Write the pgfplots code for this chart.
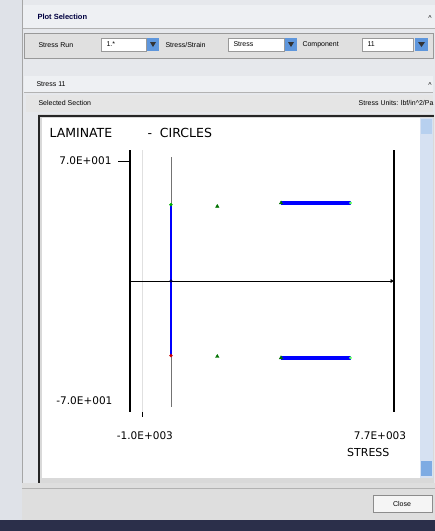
\documentclass[border=0pt]{standalone}
\usepackage{pgfplots}
\pgfplotsset{compat=1.18}
\usepackage{fontspec}
\setmainfont{Liberation Sans}
\newfontfamily\dv{DejaVu Sans}
\usetikzlibrary{arrows.meta}
\definecolor{bgout}{HTML}{DFE2E8}
\definecolor{win}{HTML}{E6E8EC}
\definecolor{strip}{HTML}{EEF0F3}
\definecolor{navy}{HTML}{2B2F4A}
\definecolor{btnblue}{HTML}{5E96DC}
\definecolor{scroll}{HTML}{D6E1F2}
\begin{document}
\begin{tikzpicture}
\useasboundingbox (0pt,0pt) rectangle (435pt,-531pt);
\begin{scope}[x=1pt,y=-1pt]
  \fill[bgout] (0,0) rectangle (435,531);
  \fill[win] (22,0) rectangle (435,520);
  \draw[black!35] (22,0) -- (22,520);
  % title strip
  \fill[strip] (23,5) rectangle (435,28);
  \draw[black!30] (23,28) -- (435,28);
  \node[anchor=west,font=\bfseries\fontsize{7.5}{8}\selectfont,text=black!75!blue] at (34,17) {Plot Selection};
  % toolbar
  \fill[black!12] (24,33) rectangle (433,58);
  \draw[black!40] (24,33) rectangle (433,58);
  \node[anchor=west,font=\fontsize{7}{8}\selectfont] at (35,45) {Stress Run};
  \fill[white] (101,38) rectangle (146,51);
  \draw[black!40] (101,38) rectangle (146,51);
  \node[anchor=west,font=\fontsize{7}{8}\selectfont] at (103,44.5) {1.*};
  \fill[btnblue] (147,38) rectangle (159,51);
  \fill[black!80] (150,42) -- (156,42) -- (153,47) -- cycle;
  \node[anchor=west,font=\fontsize{7}{8}\selectfont] at (162,45) {Stress/Strain};
  \fill[white] (228,38) rectangle (284,51);
  \draw[black!40] (228,38) rectangle (284,51);
  \node[anchor=west,font=\fontsize{7}{8}\selectfont] at (230,44.5) {Stress};
  \fill[btnblue] (285,38) rectangle (297,51);
  \fill[black!80] (288,42) -- (294,42) -- (291,47) -- cycle;
  \node[anchor=west,font=\fontsize{7}{8}\selectfont] at (299,45) {Component};
  \fill[white] (362,38) rectangle (413,51);
  \draw[black!40] (362,38) rectangle (413,51);
  \node[anchor=west,font=\fontsize{7}{8}\selectfont] at (364,44.5) {11};
  \fill[btnblue] (415,38) rectangle (428,51);
  \fill[black!80] (418,42) -- (425,42) -- (421.5,47) -- cycle;
  % stress row
  \fill[strip] (24,76) rectangle (433,92);
  \draw[black!30] (24,92) -- (433,92);
  \node[anchor=west,font=\fontsize{7}{8}\selectfont] at (33,84) {Stress 11};
  \node[font=\fontsize{7}{8}\selectfont] at (430,85) {\^{}};
  \node[font=\fontsize{7}{8}\selectfont] at (430,18) {\^{}};
  % header
  \fill[black!10] (26,95) rectangle (433,112);
  \node[anchor=west,font=\fontsize{7}{8}\selectfont] at (35,103) {Selected Section};
  \node[anchor=east,font=\fontsize{7}{8}\selectfont] at (437,103) {Stress Units: lbf/in\^{}2/Pa};
  % panel
  \fill[black!15] (38,114) rectangle (434,483);
  \fill[white] (42,118) rectangle (420,478);
  \draw[black!85,line width=1.5pt] (38,116) -- (434,116);
  \draw[black!85,line width=1.5pt] (39,116) -- (39,483);
  \fill[scroll] (420,118) rectangle (433,478);
  \fill[btnblue!45] (421,119) rectangle (432,134);
  \fill[btnblue!80] (421,461) rectangle (432,476);
  % bottom
  \fill[black!13] (22,483) rectangle (435,520);
  \draw[black!30] (22,488) -- (435,488);
  \fill[black!4] (373,495) rectangle (432,512);
  \draw[black!45] (373,495) rectangle (432,512);
  \node[font=\fontsize{7}{8}\selectfont] at (402,503.5) {Close};
  \fill[navy] (0,520) rectangle (435,531);
  % chart title
  \node[anchor=west,font=\dv\fontsize{12.5}{13}\selectfont] at (46,133) {LAMINATE};
  \node[anchor=west,font=\dv\fontsize{12.5}{13}\selectfont] at (144,133) {-\ \ CIRCLES};
\end{scope}
\begin{axis}[
  at={(130pt,-412pt)}, anchor=south west,
  scale only axis, width=264pt, height=262pt,
  xmin=-1414, xmax=7700, ymin=-76.4, ymax=76.4,
  axis lines=none, clip=false,
  ticks=none,
]
\addplot[black!12, line width=0.6pt] coordinates {(-1000,76.4) (-1000,-76.4)};
\addplot[black!55, line width=0.9pt] coordinates {(0,72.3) (0,-73.5)};
\addplot[blue, line width=1.6pt] coordinates {(0,44.5) (0,-43.5)};
\addplot[blue, line width=3.5pt] coordinates {(3800,45.5) (6200,45.5)};
\addplot[blue, line width=3.5pt] coordinates {(3800,-44.8) (6200,-44.8)};
\addplot[black, line width=1.4pt] coordinates {(-1414,76.4) (-1414,-76.4)};
\addplot[black, line width=1.4pt] coordinates {(7700,76.4) (7700,-76.4)};
\addplot[black, line width=0.6pt] coordinates {(-1414,0) (7620,0)};
% tick marks
\addplot[black, line width=0.8pt] coordinates {(-1828,70) (-1414,70)};
\addplot[black, line width=0.6pt] coordinates {(-1000,-76.4) (-1000,-79.3)};
\addplot[only marks, mark=*, mark size=1.5pt, color=green!70!black] coordinates {(0,44.5)};
\addplot[only marks, mark=*, mark size=1.5pt, color=red!80!black] coordinates {(0,-43.5)};
\addplot[only marks, mark=*, mark size=1.4pt, color=black!70!blue] coordinates {(0,0)};
\addplot[only marks, mark=triangle*, mark size=2pt, color=green!45!black] coordinates {(1600,43.5) (1600,-44) (3800,45.5) (3800,-44.8)};
\addplot[only marks, mark=*, mark size=1.2pt, color=green!60] coordinates {(6200,45.5) (6200,-44.8)};
\addplot[only marks, mark=triangle*, mark size=1.8pt, mark options={rotate=-90}, color=black] coordinates {(7620,0)};
\node[anchor=east, font=\dv\fontsize{10.5}{11}\selectfont] at (axis cs:-1930,70) {7.0E+001};
\node[anchor=east, font=\dv\fontsize{10.5}{11}\selectfont] at (axis cs:-1900,-70) {-7.0E+001};
\node[font=\dv\fontsize{10.5}{11}\selectfont] at (axis cs:-900,-90.2) {-1.0E+003};
\node[font=\dv\fontsize{10.5}{11}\selectfont] at (axis cs:7217,-90.2) {7.7E+003};
\node[anchor=east, font=\dv\fontsize{11}{12}\selectfont] at (axis cs:7665,-100) {STRESS};
\end{axis}
\end{tikzpicture}
\end{document}
